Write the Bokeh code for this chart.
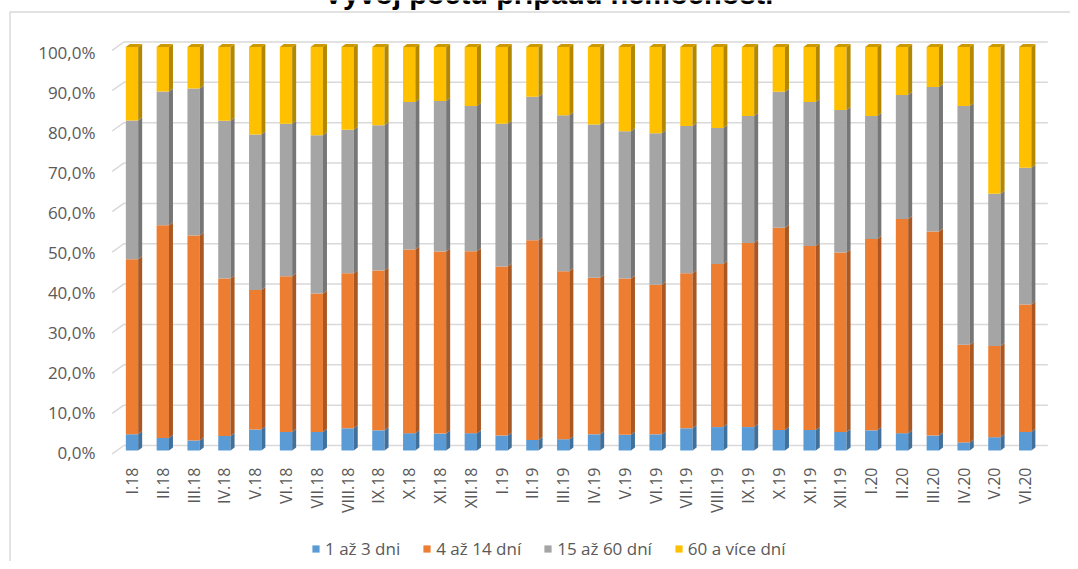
import math
import numpy as np
from bokeh.plotting import figure
from bokeh.models import (Range1d, LinearAxis, FixedTicker, Legend, LegendItem,
                          Label, ColumnDataSource)
from bokeh.embed import file_html
from bokeh.resources import INLINE

# ---------------- data ----------------
categories = ["I.18", "II.18", "III.18", "IV.18", "V.18", "VI.18", "VII.18", "VIII.18",
              "IX.18", "X.18", "XI.18", "XII.18", "I.19", "II.19", "III.19", "IV.19",
              "V.19", "VI.19", "VII.19", "VIII.19", "IX.19", "X.19", "XI.19", "XII.19",
              "I.20", "II.20", "III.20", "IV.20", "V.20", "VI.20"]
series_names = ["1 až 3 dni", "4 až 14 dní", "15 až 60 dní", "60 a více dní"]
d_1_3 = [4.0, 3.1, 2.5, 3.6, 5.2, 4.6, 4.6, 5.5, 5.0, 4.3, 4.2, 4.3, 3.7, 2.6, 2.8,
         4.0, 3.9, 4.0, 5.5, 5.8, 5.8, 5.1, 5.1, 4.6, 5.0, 4.3, 3.7, 2.0, 3.3, 4.6]
d_4_14 = [43.4, 52.7, 50.8, 39.0, 34.6, 38.6, 34.3, 38.4, 39.6, 45.5, 45.1, 45.1, 41.9, 49.5, 41.6,
          38.8, 38.7, 37.1, 38.4, 40.4, 45.6, 50.1, 45.6, 44.5, 47.4, 53.1, 50.6, 24.2, 22.6, 31.6]
d_15_60 = [34.4, 33.2, 36.4, 39.1, 38.5, 37.8, 39.2, 35.6, 36.0, 36.6, 37.3, 36.0, 35.4, 35.6, 38.7,
           38.0, 36.5, 37.5, 36.5, 33.7, 31.5, 33.7, 35.7, 35.3, 30.5, 30.7, 35.8, 59.2, 37.7, 33.9]
d_60 = [18.2, 11.0, 10.3, 18.3, 21.7, 19.0, 21.9, 20.5, 19.4, 13.6, 13.4, 14.6, 19.0, 12.3, 16.9,
        19.2, 20.9, 21.4, 19.6, 20.1, 17.1, 11.1, 13.6, 15.6, 17.1, 11.9, 9.9, 14.6, 36.4, 29.9]
y_ticks = [0, 10, 20, 30, 40, 50, 60, 70, 80, 90, 100]
y_tick_labels = ["0,0%", "10,0%", "20,0%", "30,0%", "40,0%", "50,0%",
                 "60,0%", "70,0%", "80,0%", "90,0%", "100,0%"]
title_text = "Vývoj počtu případů nemocnosti"

# ---------------- styles / layout ----------------
front_colors = ["#5B9BD5", "#ED7D31", "#A5A5A5", "#FFC000"]
side_colors = ["#41709B", "#AA5722", "#767676", "#B38700"]
top_color = "#CC9A00"
text_gray = "#595959"
grid_color = "#D9D9D9"

W, H = 1070, 561
X0, XS = 131.5, 30.8                     # first bar centre, px per category
Y0, YS = 450.0, 4.035                    # 0 % front face, px per %
LY0, LYS = 451.5, 4.0                    # y tick label placement


def px2x(px):
    return (px - X0) / XS


def px2y(py):
    return (Y0 - py) / YS


n = len(categories)
idx = np.arange(n, dtype=float)
vals = np.array([d_1_3, d_4_14, d_15_60, d_60], dtype=float)
vals = vals / vals.sum(axis=0) * 100.0
cum = np.vstack([np.zeros(n), np.cumsum(vals, axis=0)])

bw = 0.4                 # front width (categories)
dx = 4.0 / XS            # depth in x
dy = 3.0 / YS            # depth in y

p = figure(width=W, height=H, output_backend="svg", toolbar_location=None,
           x_range=Range1d(px2x(0), px2x(W)), y_range=Range1d(px2y(H), px2y(0)),
           y_axis_location=None, x_axis_location="below",
           min_border=0, min_border_left=0, min_border_right=0, min_border_top=0,
           min_border_bottom=0, outline_line_color=None,
           background_fill_color="white", border_fill_color="white")
p.grid.visible = False

# chart border (left and top edges visible)
p.line([px2x(9.5), px2x(9.5), px2x(1200)], [px2y(700), px2y(11.5), px2y(11.5)],
       line_color=grid_color, line_width=1.5)

# back-wall gridlines
gx = [px2x(111.7), px2x(123.3), px2x(1047.3)]
g_xs, g_ys = [], []
for t in y_ticks:
    g_xs.append(gx)
    g_ys.append([t - 3.3 / YS, t + 5.0 / YS, t + 5.0 / YS])
p.multi_line(g_xs, g_ys, line_color=grid_color, line_width=1.5)

# front faces
src = ColumnDataSource(dict(x=idx, **{f"s{k}": vals[k] for k in range(4)}))
renderers = p.vbar_stack([f"s{k}" for k in range(4)], x="x", width=bw, source=src,
                         color=front_colors, line_color=None)

# side faces
xr = idx + bw / 2
xl = idx - bw / 2
for k in range(4):
    xs = [[a, a + dx, a + dx, a] for a in xr]
    ys = [[lo, lo + dy, hi + dy, hi] for lo, hi in zip(cum[k], cum[k + 1])]
    p.patches(xs, ys, fill_color=side_colors[k], line_color=None)

# top faces
top_xs = [[a, a + dx, b + dx, b] for a, b in zip(xl, xr)]
top_ys = [[c, c + dy, c + dy, c] for c in cum[4]]
p.patches(top_xs, top_ys, fill_color=top_color, line_color=None)

# x axis (drawn inside the frame at a fixed location)
xa = p.xaxis[0]
xa.fixed_location = px2y(466)
xa.ticker = FixedTicker(ticks=list(range(n)))
xa.major_label_overrides = {i: c for i, c in enumerate(categories)}
xa.major_label_orientation = math.pi / 2
xa.axis_line_color = None
xa.major_tick_line_color = None
xa.minor_tick_line_color = None
xa.major_tick_out = 0
xa.major_tick_in = 0
xa.major_label_standoff = 1
xa.major_label_text_font = "Open Sans"
xa.major_label_text_font_size = "16px"
xa.major_label_text_color = text_gray

# y axis (labels)
p.extra_y_ranges = {"lab": Range1d((LY0 - H) / LYS, LY0 / LYS)}
ya = LinearAxis(y_range_name="lab", ticker=FixedTicker(ticks=y_ticks),
                major_label_overrides={t: l for t, l in zip(y_ticks, y_tick_labels)})
ya.fixed_location = px2x(100)
ya.axis_line_color = None
ya.major_tick_line_color = None
ya.minor_tick_line_color = None
ya.major_tick_out = 0
ya.major_tick_in = 0
ya.major_label_standoff = 5
ya.major_label_text_font = "Open Sans"
ya.major_label_text_font_size = "17px"
ya.major_label_text_color = text_gray
p.add_layout(ya, "left")

# title (partly cut off at top)
p.add_layout(Label(x=px2x(548), y=px2y(9), text=title_text, text_align="center",
                   text_baseline="bottom", text_font="Liberation Sans",
                   text_font_style="bold", text_font_size="29px", text_color="black"))

# legend
items = [LegendItem(label=name, renderers=[r]) for name, r in zip(series_names, renderers)]
legend = Legend(items=items, orientation="horizontal", location=(311, 1),
                glyph_width=9, glyph_height=9, label_standoff=5, spacing=22,
                padding=0, margin=0, border_line_color=None, background_fill_alpha=0,
                label_text_font="Open Sans", label_text_font_size="17px",
                label_text_color=text_gray)
p.add_layout(legend)

open("out.html", "w").write(file_html(p, INLINE))
